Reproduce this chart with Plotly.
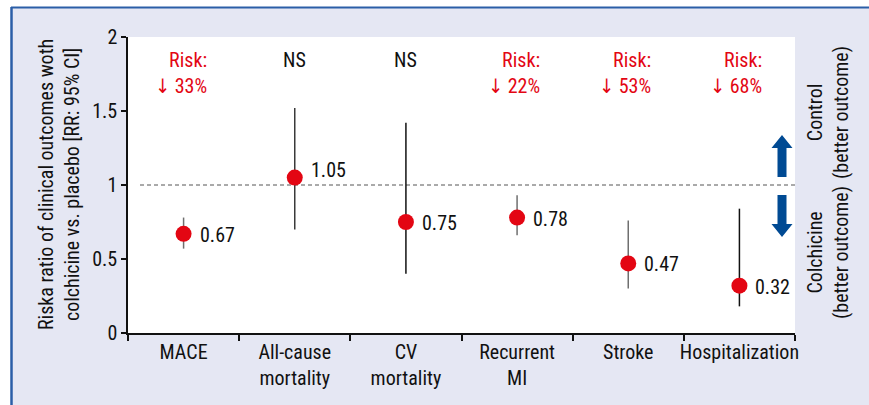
import plotly.graph_objects as go

# ---- data ----
categories = ["MACE", "All-cause<br>mortality", "CV<br>mortality", "Recurrent<br>MI", "Stroke", "Hospitalization"]
rr = [0.67, 1.05, 0.75, 0.78, 0.47, 0.32]
ci_low = [0.57, 0.70, 0.40, 0.66, 0.30, 0.18]
ci_high = [0.78, 1.52, 1.42, 0.93, 0.76, 0.84]
value_labels = ["0.67", "1.05", "0.75", "0.78", "0.47", "0.32"]
top_notes = ["Risk:<br>↓ 33%", "NS", "NS", "Risk:<br>↓ 22%", "Risk:<br>↓ 53%", "Risk:<br>↓ 68%"]
significant = [True, False, False, True, True, True]
ci_colors = ["#6f6f6f", "#3a3a3a", "#111111", "#6f6f6f", "#6f6f6f", "#111111"]
y_ticks = [0, 0.5, 1, 1.5, 2]
y_tick_labels = ["0", "0.5", "1", "1.5", "2"]

FONT = "Roboto Condensed, DejaVu Sans Condensed, Liberation Sans, sans-serif"
FS = 20
RED = "#e30613"
BLUE = "#004a93"
BG = "#e5e7f3"
TXT = "#111111"

W, H = 869, 405
ML, MR, MT, MB = 128, 74, 37, 72
PW = W - ML - MR
PH = H - MT - MB


def px_x(px):
    return (px - ML) / PW


def px_y(px):
    return (H - MB - px) / PH


def px_data_y(px):
    return (H - MB - px) / PH * 2.0


fig = go.Figure()

for i, cat in enumerate(categories):
    fig.add_trace(go.Scatter(
        x=[cat], y=[rr[i]],
        mode="markers",
        marker=dict(size=16, color=RED, line=dict(width=0)),
        error_y=dict(type="data", symmetric=False,
                     array=[ci_high[i] - rr[i]], arrayminus=[rr[i] - ci_low[i]],
                     color=ci_colors[i], thickness=1.5, width=0),
        showlegend=False, hoverinfo="skip",
    ))

annotations = []
for i, cat in enumerate(categories):
    annotations.append(dict(
        x=cat, y=rr[i], xref="x", yref="y", text=value_labels[i],
        showarrow=False, xanchor="left", yanchor="middle", xshift=14,
        yshift=(8 if abs(rr[i] - 1) < 0.1 else -1),
        font=dict(family=FONT, size=FS, color=TXT),
    ))
    annotations.append(dict(
        x=cat, y=(1.76 if significant[i] else 1.845), xref="x", yref="y",
        text=top_notes[i], showarrow=False, xanchor="center", yanchor="middle",
        align="right", xshift=(-3 if significant[i] else 0),
        font=dict(family=FONT, size=FS, color=RED if significant[i] else TXT),
    ))

# y axis title (two lines)
annotations.append(dict(
    x=px_x(59), y=1.0, xref="paper", yref="y", textangle=-90,
    text="Riska ratio of clinical outcomes woth<br>colchicine vs. placebo [RR: 95% CI]",
    showarrow=False, xanchor="center", yanchor="middle",
    font=dict(family=FONT, size=FS, color=TXT),
))
# right side labels
annotations.append(dict(
    x=px_x(828), y=px_data_y(112), xref="paper", yref="y", textangle=-90,
    text="Control<br>(better outcome)", showarrow=False, xanchor="center", yanchor="middle",
    font=dict(family=FONT, size=FS, color=TXT),
))
annotations.append(dict(
    x=px_x(828), y=px_data_y(252), xref="paper", yref="y", textangle=-90,
    text="Colchicine<br>(better outcome)", showarrow=False, xanchor="center", yanchor="middle",
    font=dict(family=FONT, size=FS, color=TXT),
))

shapes = []
shapes.append(dict(type="rect", xref="paper", yref="paper",
                   x0=px_x(-20), x1=px_x(W + 20), y0=px_y(7), y1=px_y(-20),
                   fillcolor="white", line=dict(width=0), layer="above"))
shapes.append(dict(type="rect", xref="paper", yref="paper",
                   x0=px_x(-20), x1=px_x(11), y0=px_y(H + 20), y1=px_y(-20),
                   fillcolor="white", line=dict(width=0), layer="above"))
shapes.append(dict(type="line", xref="paper", yref="paper",
                   x0=px_x(11), x1=px_x(W + 20), y0=px_y(7.5), y1=px_y(7.5),
                   line=dict(color="#2b5ea7", width=2)))
shapes.append(dict(type="line", xref="paper", yref="paper",
                   x0=px_x(11.5), x1=px_x(11.5), y0=px_y(7), y1=px_y(H + 20),
                   line=dict(color="#2b5ea7", width=2.5)))
shapes.append(dict(type="line", xref="paper", yref="y",
                   x0=px_x(140), x1=1, y0=1, y1=1,
                   line=dict(color="#555555", width=1, dash="4px,3px"), layer="below"))

cx = px_x(782)
sw = 4.5 / PW
hw = 10.5 / PW


def arrow_up(tip, base, bottom):
    return (f"M {cx - sw} {bottom} L {cx - sw} {base} L {cx - hw} {base} L {cx} {tip} "
            f"L {cx + hw} {base} L {cx + sw} {base} L {cx + sw} {bottom} Z")


shapes.append(dict(type="path", xref="paper", yref="y",
                   path=arrow_up(px_data_y(135), px_data_y(148), px_data_y(177)),
                   fillcolor=BLUE, line=dict(width=0)))
shapes.append(dict(type="path", xref="paper", yref="y",
                   path=arrow_up(px_data_y(237), px_data_y(224), px_data_y(195)),
                   fillcolor=BLUE, line=dict(width=0)))

fig.update_layout(
    width=W, height=H,
    margin=dict(l=ML, r=MR, t=MT, b=MB, pad=0, autoexpand=False),
    paper_bgcolor=BG, plot_bgcolor="white",
    font=dict(family=FONT, size=FS, color=TXT),
    annotations=annotations, shapes=shapes,
    xaxis=dict(
        type="category", categoryorder="array", categoryarray=categories,
        range=[-0.5, len(categories) - 0.5], tickangle=0, automargin=False,
        showline=True, linecolor=TXT, linewidth=1.5,
        ticks="outside", tickson="boundaries", ticklen=6, tickwidth=1.5, tickcolor=TXT,
        showgrid=False, zeroline=False, fixedrange=True,
        tickfont=dict(family=FONT, size=FS, color=TXT),
    ),
    yaxis=dict(
        range=[0, 2], tickvals=y_ticks, ticktext=y_tick_labels, automargin=False,
        showline=True, linecolor=TXT, linewidth=1.5,
        ticks="outside", ticklen=5, tickwidth=1.5, tickcolor=TXT,
        showgrid=False, zeroline=False, fixedrange=True,
        tickfont=dict(family=FONT, size=FS, color=TXT),
    ),
)

fig.write_html("out.html", config={"displayModeBar": False},
               post_script="document.body.style.margin='0';document.body.style.padding='0';document.body.style.overflow='hidden';")
